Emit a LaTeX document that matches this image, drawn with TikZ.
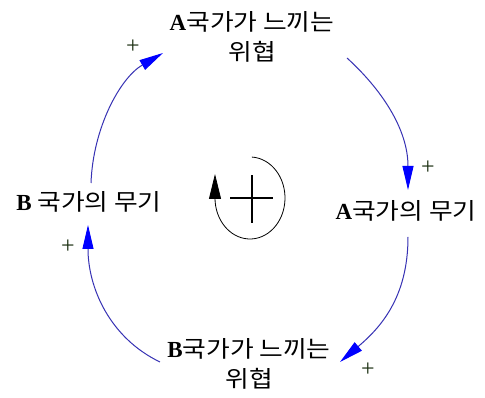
\documentclass[tikz,border=0pt]{standalone}
\usepackage{fontspec}
\setmainfont{Liberation Serif}
\newfontfamily\kr[FakeStretch=1.12]{Noto Sans CJK KR}
\usetikzlibrary{arrows.meta}
\definecolor{linkline}{RGB}{55,50,180}
\definecolor{linkhead}{RGB}{0,0,255}
\definecolor{pluscol}{RGB}{25,45,15}
\tikzset{
  textnode/.style={inner sep=0pt, align=center, font=\fontsize{23}{30}\selectfont},
  link/.style={draw=linkline, line width=1pt, -{Triangle[length=24pt,width=11pt,color=linkhead]}},
  polarity/.style={inner sep=0pt, text=pluscol, font=\fontsize{24}{24}\selectfont},
}
\begin{document}
\begin{tikzpicture}[x=1pt,y=1pt]
\fill[white] (0,0) rectangle (485,398);
\useasboundingbox (0,0) rectangle (485,398);
% nodes
\node[textnode] (At) at (252,361) {\textbf{A}{\kr 국가가 느끼는}\\{\kr 위협}};
\node[textnode] (Ar) at (406,187) {\textbf{A}{\kr 국가의 무기}};
\node[textnode] (Bb) at (249,34) {\textbf{B}{\kr 국가가 느끼는}\\{\kr 위협}};
\node[textnode] (Bl) at (89,196) {\textbf{B} {\kr 국가의 무기}};
% links
\draw[link] ([shift={(2,19)}]Bl.center) .. controls ([shift={(4,74)}]Bl.center) and ([shift={(-132,-41)}]At.center) .. ([shift={(-89,-16)}]At.center);
\draw[link] ([shift={(95,-21)}]At.center) .. controls ([shift={(128,-51)}]At.center) and ([shift={(2,83)}]Ar.center) .. ([shift={(2,21)}]Ar.center);
\draw[link] ([shift={(2,-26)}]Ar.center) .. controls ([shift={(2,-87)}]Ar.center) and ([shift={(131,36)}]Bb.center) .. ([shift={(91,2)}]Bb.center);
\draw[link] ([shift={(-89,2)}]Bb.center) .. controls ([shift={(-139,26)}]Bb.center) and ([shift={(-1,-86)}]Bl.center) .. ([shift={(-1,-23)}]Bl.center);
% polarities
\node[polarity] (p1) at (133,351) {+};
\node[polarity] (p2) at (428,230) {+};
\node[polarity] (p3) at (368,28) {+};
\node[polarity] (p4) at (68,151) {+};
% loop symbol
\coordinate (loopc) at (250,200);
\draw[line width=0.8pt, -{Triangle[length=25pt,width=12pt]}] ([shift={(87:35pt and 41pt)}]loopc) arc[start angle=87, end angle=-180, x radius=35, y radius=41] -- ++(0,24);
\draw[line width=2.6pt] (230,200) -- (273,200);
\draw[line width=2.6pt] (252,175) -- (252,223);
\end{tikzpicture}
\end{document}
